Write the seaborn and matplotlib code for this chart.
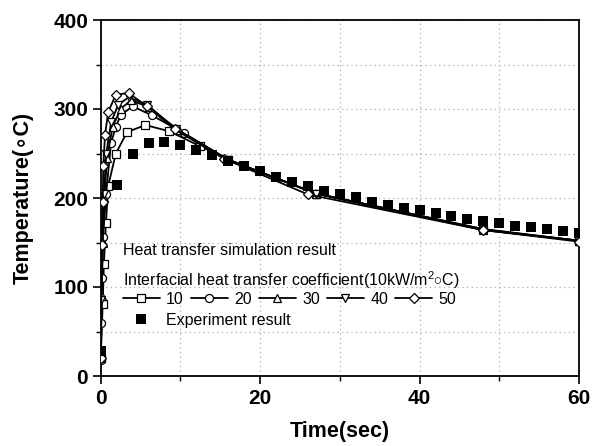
import matplotlib
matplotlib.use("Agg")
import matplotlib.pyplot as plt
import seaborn as sns
from matplotlib.lines import Line2D
from matplotlib.ticker import MultipleLocator

# ---------------- data ----------------
t10 = [0, 0.25, 0.4, 0.66, 0.95, 1.9, 3.3, 5.6, 8.6, 12.5, 16, 27, 48, 60]
T10 = [20, 81, 126, 172, 214, 250, 274, 282, 275, 258, 243, 205, 165, 152]

t20 = [0, 0.1, 0.15, 0.3, 0.67, 1.3, 1.9, 2.5, 4.0, 6.4, 10.4, 16, 27, 48, 60]
T20 = [18, 60, 110, 156, 204, 262, 280, 293, 303, 293, 273, 243, 205, 165, 152]

t30 = [0, 0.12, 0.25, 0.45, 0.8, 1.5, 2.5, 3.8, 6.0, 9.8, 16, 27, 48, 60]
T30 = [20, 90, 150, 200, 245, 280, 300, 310, 302, 276, 243, 205, 164, 152]

t40 = [0, 0.1, 0.2, 0.4, 0.7, 1.3, 2.2, 3.5, 5.8, 9.5, 16, 27, 48, 60]
T40 = [20, 85, 145, 205, 250, 285, 305, 313, 305, 277, 243, 205, 164, 152]

t50 = [0, 0.15, 0.25, 0.33, 0.54, 0.95, 1.9, 3.5, 5.8, 9.3, 15.5, 26, 48, 60]
T50 = [20, 147, 196, 236, 271, 297, 316, 318, 303, 277, 244, 204, 164, 151]

t_exp = [0, 2, 4, 6, 8, 10, 12, 14, 16, 18, 20, 22, 24, 26, 28, 30, 32, 34, 36,
         38, 40, 42, 44, 46, 48, 50, 52, 54, 56, 58, 60]
T_exp = [28, 215, 249, 262, 263, 259, 254, 248, 242, 236, 230, 224, 218, 213,
         208, 204.5, 201, 196, 192, 189, 186, 183, 180, 176.5, 174, 171.5, 169,
         167, 165, 163, 161]

series_labels = ["10", "20", "30", "40", "50"]
series_markers = ["s", "o", "^", "v", "D"]
x_label = "Time(sec)"
y_label = "Temperature(\u2218C)"
header1 = "Heat transfer simulation result"
header2 = "Interfacial heat transfer coefficient(10kW/m$^{2}{\\circ}$C)"
exp_label = "Experiment result"

# ---------------- style ----------------
sns.set_style("white")
plt.rcParams['font.family'] = ['Liberation Sans', 'DejaVu Sans']
plt.rcParams['mathtext.fontset'] = 'custom'
plt.rcParams['mathtext.rm'] = 'Liberation Sans'
plt.rcParams['mathtext.it'] = 'Liberation Sans'
plt.rcParams['text.color'] = 'black'
plt.rcParams['axes.labelcolor'] = 'black'
plt.rcParams['xtick.color'] = 'black'
plt.rcParams['ytick.color'] = 'black'

W, H = 595, 446
fig = plt.figure(figsize=(W / 100, H / 100), dpi=100)
ax = fig.add_axes([100.7 / W, 1 - 376 / H, (579 - 100.7) / W, (376 - 20) / H])

ms = {"s": 5.5, "o": 5.8, "^": 6.0, "v": 6.0, "D": 5.2}
all_t = [t10, t20, t30, t40, t50]
all_T = [T10, T20, T30, T40, T50]
for tt, TT, mk in zip(all_t, all_T, series_markers):
    sns.lineplot(x=tt, y=TT, ax=ax, color="black", lw=1.3, marker=mk,
                 markersize=ms[mk], markerfacecolor="white",
                 markeredgecolor="black", markeredgewidth=0.9,
                 estimator=None, sort=False, legend=False, zorder=3)

sns.scatterplot(x=t_exp, y=T_exp, ax=ax, marker="s", s=52, color="black",
                linewidth=0, legend=False, zorder=4)

ax.set_xlim(0, 60)
ax.set_ylim(0, 400)
ax.xaxis.set_major_locator(MultipleLocator(20))
ax.xaxis.set_minor_locator(MultipleLocator(10))
ax.yaxis.set_major_locator(MultipleLocator(100))
ax.yaxis.set_minor_locator(MultipleLocator(50))
ax.grid(True, which="both", color="#b8b8b8", linestyle=(0, (1.2, 2.5)), lw=0.9)
ax.set_axisbelow(True)
ax.tick_params(which="major", direction="out", length=6, width=1.2,
               labelsize=15, color="black", labelcolor="black",
               bottom=True, left=True, pad=3)
ax.tick_params(which="minor", direction="out", length=3.5, width=1.0,
               color="black", bottom=True, left=True)
for lab in ax.get_xticklabels() + ax.get_yticklabels():
    lab.set_fontweight("bold")
for sp in ax.spines.values():
    sp.set_color("black")
    sp.set_linewidth(1.3)

ax.set_xlabel(x_label, fontsize=15.5, fontweight="bold", color="black")
ax.set_ylabel(y_label, fontsize=15.5, fontweight="bold", color="black")
ax.xaxis.set_label_coords(0.5, -(421 - 376) / 356)
ax.yaxis.set_label_coords(-(100.7 - 34) / 478.3, 0.5)

# ---------------- legend ----------------
fs = 11.5
fig.text(123 / W, 1 - 251 / H, header1, fontsize=fs, va="center", ha="left",
         color="black")
fig.text(123 / W, 1 - 280 / H, header2, fontsize=fs, va="center", ha="left",
         color="black")

handles = [Line2D([], [], color="black", lw=1.3, marker=mk, markersize=ms[mk],
                  markerfacecolor="white", markeredgecolor="black",
                  markeredgewidth=0.9)
           for mk in series_markers]
leg1 = ax.legend(handles, series_labels, ncol=5, frameon=False, fontsize=fs,
                 loc="center left", bbox_to_anchor=(123 / W, 1 - 299 / H),
                 bbox_transform=fig.transFigure, borderpad=0, borderaxespad=0,
                 handlelength=2.3, handletextpad=0.4, columnspacing=0.45,
                 labelcolor="black")
ax.add_artist(leg1)
h_exp = Line2D([], [], color="black", lw=0, marker="s", markersize=7.2,
               markeredgewidth=0)
ax.legend([h_exp], [exp_label], frameon=False, fontsize=fs, loc="center left",
          bbox_to_anchor=(123 / W, 1 - 320 / H), bbox_transform=fig.transFigure,
          borderpad=0, borderaxespad=0, handlelength=2.3, handletextpad=0.4,
          labelcolor="black")

fig.savefig("out.png", dpi=100)
